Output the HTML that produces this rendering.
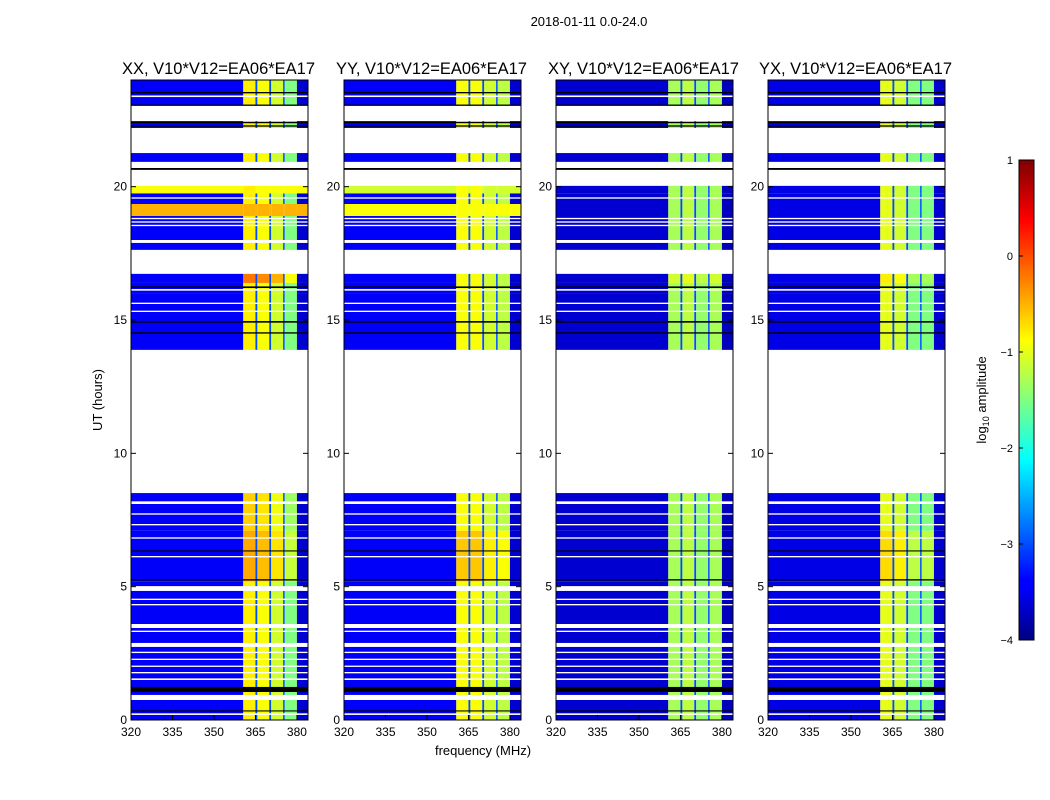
<!DOCTYPE html>
<html><head><meta charset="utf-8"><style>
body{margin:0;background:#fff;}
svg{display:block;font-family:"Liberation Sans",sans-serif;}
</style></head><body>
<svg id="chart" width="1050" height="800" viewBox="0 0 1050 800" xmlns="http://www.w3.org/2000/svg">
<rect width="1050" height="800" fill="#fff"/>
<text x="589" y="26" font-size="13" text-anchor="middle">2018-01-11 0.0-24.0</text>
<text transform="translate(102,400) rotate(-90)" font-size="13" text-anchor="middle">UT (hours)</text>
<text x="483" y="755" font-size="13" text-anchor="middle">frequency (MHz)</text>
<g id="panels"></g>
<defs><linearGradient id="jet" x1="0" y1="1" x2="0" y2="0">
<stop offset="0" stop-color="#000080"/><stop offset="0.11" stop-color="#0000ff"/><stop offset="0.125" stop-color="#0000ff"/><stop offset="0.375" stop-color="#00ffff"/><stop offset="0.5" stop-color="#80ff80"/><stop offset="0.625" stop-color="#ffff00"/><stop offset="0.875" stop-color="#ff0000"/><stop offset="1" stop-color="#800000"/></linearGradient></defs>
<rect x="1019" y="160" width="15" height="480" fill="url(#jet)" stroke="#000" stroke-width="1"/>
<g id="cbticks" font-size="11" text-anchor="end"></g>
<text transform="translate(986,400) rotate(-90)" font-size="13" text-anchor="middle">log<tspan font-size="9" dy="3">10</tspan><tspan dy="-3"> amplitude</tspan></text>
</svg>
<script>
const panelTitles=["XX, V10*V12=EA06*EA17","YY, V10*V12=EA06*EA17","XY, V10*V12=EA06*EA17","YX, V10*V12=EA06*EA17"];
const freqEdges=[320,360.6,365,365.7,370,370.7,375,375.6,380,384];
const bandFlag=[0,1,0,1,0,1,0,1,0];
const levelsXX=[-3.4,-0.8,-3.0,-0.9,-3.0,-1.1,-3.0,-1.5,-3.6];
const levelsYY=[-3.4,-0.9,-3.0,-0.9,-3.0,-1.1,-3.0,-1.2,-3.6];
const levelsXY=[-3.6,-1.3,-3.0,-1.2,-3.0,-1.4,-3.0,-1.3,-3.7];
const levelsYX=[-3.5,-1.0,-3.0,-1.1,-3.0,-1.5,-3.0,-1.5,-3.6];
const rowStart=[0,5.2,7.1,13.88,16.01,16.39,17.63,18.0,18.9,19.35,19.75,20.93,22.2,23.06];
const rowEnd=[5.2,7.1,8.51,16.01,16.39,16.73,17.89,18.9,19.35,19.75,20.03,21.26,22.46,24];
const offXX=[0,0.35,0.15,0,0,0.6,0,0,0,0,0,0,0,0];
const offYY=[0,0.3,0,0,0,0,0,0,0,0,0,0,0,0];
const offXY=[0,0,0,0,0,0.2,0,0,0,0,0,0,0,0];
const offYX=[0,0.3,0,0,0,0.2,0,0,0,0,0,0,0,0];
const floorXX=[-9,-9,-9,-9,-9,-9,-9,-9,-0.5,-9,-0.9,-9,-9,-9];
const floorYY=[-9,-9,-9,-9,-9,-9,-9,-9,-0.9,-9,-1.1,-9,-9,-9];
const floorXY=[-9,-9,-9,-9,-9,-9,-9,-9,-9,-9,-9,-9,-9,-9];
const floorYX=[-9,-9,-9,-9,-9,-9,-9,-9,-9,-9,-9,-9,-9,-9];
const whiteStart=[0.19,0.75,1.5,1.75,1.99,2.25,2.51,2.74,3.3,3.45,4.3,4.5,4.84,6.1,6.8,7.3,7.7,8.1,15.3,15.6,16.1,18.52,18.65,18.78,19.55,23.36];
const whiteEnd=[0.25,0.94,1.56,1.8,2.04,2.3,2.56,2.89,3.35,3.6,4.35,4.55,5.02,6.15,6.85,7.35,7.75,8.2,15.35,15.65,16.16,18.57,18.7,18.83,19.6,23.42];
const blackStart=[0.32,1.05,5.23,6.32,14.49,14.9,16.2,20.63,22.25,22.38,23.03,23.5];
const blackEnd=[0.36,1.24,5.28,6.36,14.54,14.96,16.26,20.7,22.3,22.43,23.08,23.55];
const xTicks=[320,335,350,365,380];
const yTicks=[0,5,10,15,20];
const cbTicks=[1,0,-1,-2,-3,-4];

const levels=[levelsXX,levelsYY,levelsXY,levelsYX];
const offs=[offXX,offYY,offXY,offYX];
const floors=[floorXX,floorYY,floorXY,floorYX];
const lefts=[131,344,556,768], PW=177, TOP=80, PH=640;
const NS="http://www.w3.org/2000/svg";
function jet(v){let t=Math.max(0,Math.min(1,(v+4)/5));const c=x=>Math.round(255*Math.max(0,Math.min(1,x)));
return `rgb(${c(1.5-Math.abs(4*t-3))},${c(1.5-Math.abs(4*t-2))},${c(1.5-Math.abs(4*t-1))})`;}
function mk(tag,attrs,parent){const e=document.createElementNS(NS,tag);for(const k in attrs)e.setAttribute(k,attrs[k]);parent.appendChild(e);return e;}
const root=document.getElementById('panels');
for(let p=0;p<4;p++){
  const L=lefts[p];
  const xs=f=>L+(f-320)*PW/64;
  const ys=h=>TOP+PH-h*PH/24;
  const g=mk('g',{},root);
  
  
  for(let r=0;r<rowStart.length;r++){
    for(let s=0;s<freqEdges.length-1;s++){
      const v=Math.max(levels[p][s]+offs[p][r]*bandFlag[s],floors[p][r]);
      const e=mk('rect',{x:xs(freqEdges[s]),y:ys(rowEnd[r]),width:xs(freqEdges[s+1])-xs(freqEdges[s]),height:ys(rowStart[r])-ys(rowEnd[r]),fill:jet(v)},g);
      
      
    }
  }
  for(let i=0;i<whiteStart.length;i++){
    const e=mk('rect',{x:L,y:ys(whiteEnd[i]),width:PW,height:ys(whiteStart[i])-ys(whiteEnd[i]),fill:'#fff'},g);
    
    
  }
  for(let i=0;i<blackStart.length;i++){
    const e=mk('rect',{x:L,y:ys(blackEnd[i]),width:PW,height:ys(blackStart[i])-ys(blackEnd[i]),fill:'#000'},g);
    
    
  }
  const fr=mk('rect',{x:L,y:TOP,width:PW,height:PH,fill:'none',stroke:'#000','stroke-width':1},g);
  
  
  const t=mk('text',{x:L+PW/2-1,y:74,'font-size':16.5,'text-anchor':'middle'},g);
  t.textContent=panelTitles[p];
  
  
  xTicks.forEach(v=>{
    mk('line',{x1:xs(v),x2:xs(v),y1:TOP+PH,y2:TOP+PH-5,stroke:'#000'},g);
    const tx=mk('text',{x:xs(v),y:TOP+PH+16,'font-size':12,'text-anchor':'middle'},g);
    tx.textContent=v;
    
    
  });
  yTicks.forEach(v=>{
    mk('line',{x1:L,x2:L+5,y1:ys(v),y2:ys(v),stroke:'#000'},g);
    mk('line',{x1:L+PW,x2:L+PW-5,y1:ys(v),y2:ys(v),stroke:'#000'},g);
    const tx=mk('text',{x:L-4,y:ys(v)+4,'font-size':12,'text-anchor':'end'},g);
    tx.textContent=v;
    
    
  });
}
const cb=document.getElementById('cbticks');
cbTicks.forEach(v=>{
  const y=160+(1-v)*96;
  mk('line',{x1:1019,x2:1023,y1:y,y2:y,stroke:'#000'},cb);
  const tx=mk('text',{x:1013,y:y+4},cb);
  tx.textContent=v<0?'\u2212'+(-v):v;
  
  
});
</script>
</body></html>
